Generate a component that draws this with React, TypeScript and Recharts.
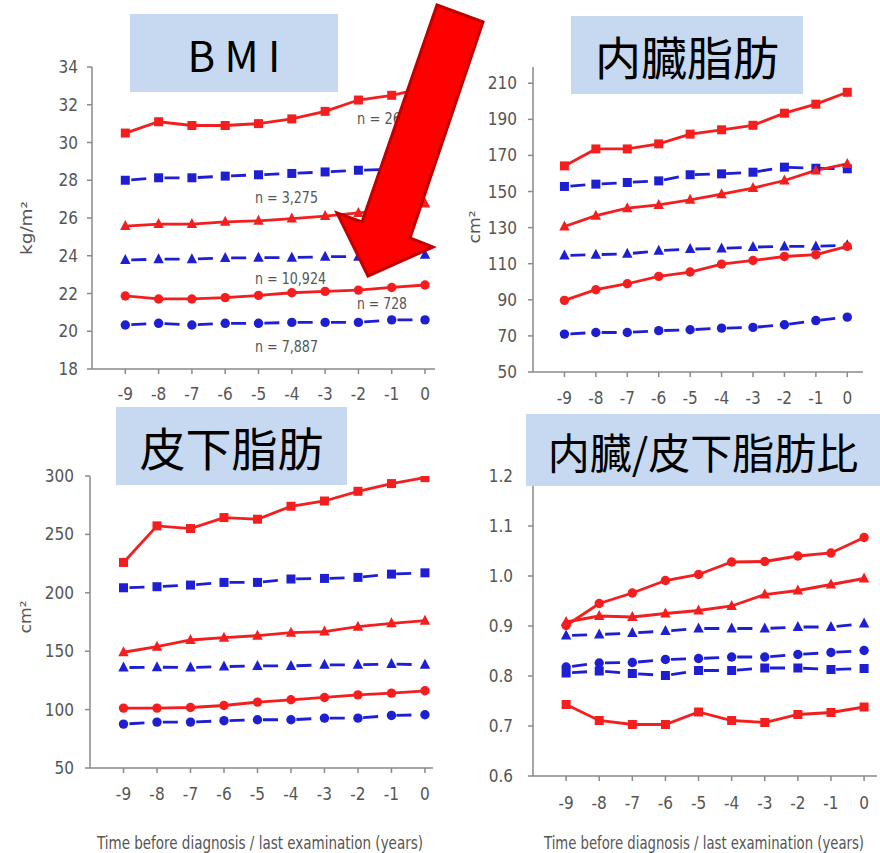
import React from 'react';
import { LineChart, Line, XAxis, YAxis } from 'recharts';

// ---------- data ----------
const years = [-9, -8, -7, -6, -5, -4, -3, -2, -1, 0];

// BMI (kg/m²)
const bmiRedSq = [30.5, 31.1, 30.9, 30.9, 31.0, 31.25, 31.65, 32.25, 32.5, 32.9];
const bmiBlueSq = [28.0, 28.13, 28.13, 28.22, 28.29, 28.36, 28.44, 28.53, 28.58, 28.62];
const bmiRedTri = [25.57, 25.68, 25.68, 25.8, 25.85, 25.97, 26.1, 26.27, 26.4, 26.77];
const bmiBlueTri = [23.77, 23.82, 23.82, 23.88, 23.9, 23.9, 23.95, 23.95, 23.97, 24.05];
const bmiRedCir = [21.87, 21.71, 21.71, 21.78, 21.9, 22.04, 22.11, 22.18, 22.32, 22.45];
const bmiBlueCir = [20.33, 20.42, 20.33, 20.42, 20.42, 20.47, 20.47, 20.47, 20.6, 20.6];
const bmiTicks = [18, 20, 22, 24, 26, 28, 30, 32, 34];
const bmiNotes = ['n = 26', 'n = 3,275', 'n = 10,924', 'n = 728', 'n = 7,887'];

// 内臓脂肪 (cm²)
const vatRedSq = [164.2, 173.6, 173.6, 176.4, 181.8, 184.2, 186.7, 193.4, 198.4, 205.0];
const vatBlueSq = [152.8, 154.1, 155.0, 155.9, 159.3, 159.8, 160.7, 163.5, 162.9, 162.6];
const vatRedTri = [130.6, 136.6, 140.8, 142.6, 145.4, 148.5, 151.9, 156.1, 161.7, 165.3];
const vatBlueTri = [114.6, 115.0, 115.5, 117.2, 118.1, 118.5, 119.2, 119.6, 119.6, 120.3];
const vatRedCir = [89.7, 95.6, 98.9, 103.0, 105.4, 109.8, 111.8, 114.0, 115.0, 119.6];
const vatBlueCir = [71.0, 71.9, 71.9, 72.9, 73.4, 74.3, 74.7, 76.2, 78.5, 80.4];
const vatTicks = [50, 70, 90, 110, 130, 150, 170, 190, 210];

// 皮下脂肪 (cm²)
const satRedSq = [226.0, 257.3, 255.0, 264.4, 263.0, 274.1, 278.6, 286.9, 293.5, 298.6];
const satBlueSq = [204.3, 205.2, 206.6, 208.9, 208.9, 211.8, 212.3, 213.2, 216.0, 217.1];
const satRedTri = [149.1, 153.9, 159.6, 161.6, 163.3, 165.9, 166.8, 171.0, 173.9, 176.1];
const satBlueTri = [136.0, 136.3, 136.0, 136.8, 137.4, 137.4, 138.3, 138.3, 139.1, 138.3];
const satRedCir = [101.3, 101.3, 101.8, 103.5, 106.4, 108.4, 110.4, 112.6, 114.1, 116.1];
const satBlueCir = [87.6, 89.3, 89.3, 90.5, 91.3, 91.3, 92.7, 92.7, 95.0, 95.6];
const satTicks = [50, 100, 150, 200, 250, 300];

// 内臓/皮下脂肪比
const ratioRedSq = [0.743, 0.711, 0.703, 0.703, 0.728, 0.711, 0.707, 0.723, 0.727, 0.738];
const ratioBlueSq = [0.806, 0.81, 0.805, 0.801, 0.811, 0.811, 0.816, 0.816, 0.813, 0.815];
const ratioRedTri = [0.908, 0.92, 0.918, 0.925, 0.931, 0.94, 0.963, 0.971, 0.983, 0.995];
const ratioBlueTri = [0.881, 0.883, 0.886, 0.89, 0.895, 0.895, 0.895, 0.898, 0.898, 0.905];
const ratioRedCir = [0.901, 0.945, 0.966, 0.991, 1.003, 1.028, 1.029, 1.04, 1.046, 1.077];
const ratioBlueCir = [0.818, 0.826, 0.827, 0.833, 0.835, 0.838, 0.838, 0.843, 0.847, 0.851];
const ratioTicks = [0.6, 0.7, 0.8, 0.9, 1.0, 1.1, 1.2];

const xLabel = 'Time before diagnosis / last examination (years)';

// ---------- styles ----------
const RED = '#f51e1e';
const BLUE = '#1e1ed2';
const AXIS = '#8a8a8a';
const TXT = '#555555';
const BOX = '#c6d9f0';
const NARROW = "'Liberation Sans Narrow','DejaVu Sans Condensed',sans-serif";
const CJK = "'Noto Sans CJK JP','Noto Sans',sans-serif";

type Shape = 'square' | 'circle' | 'triangle';
type SeriesDef = { key: string; values: number[]; color: string; shape: Shape; dashed: boolean };

const makeDot = (shape: Shape, color: string) => (p: any) => {
  const { cx, cy, index } = p;
  if (cx == null || cy == null) return <g key={`d${index}`} />;
  if (shape === 'square')
    return <rect key={`d${index}`} x={cx - 4.5} y={cy - 4.5} width={9} height={9} fill={color} />;
  if (shape === 'circle') return <circle key={`d${index}`} cx={cx} cy={cy} r={4.7} fill={color} />;
  return (
    <polygon
      key={`d${index}`}
      points={`${cx},${cy - 6} ${cx + 5.2},${cy + 4} ${cx - 5.2},${cy + 4}`}
      fill={color}
    />
  );
};

const buildSeries = (
  prefix: string,
  rs: number[], bs: number[], rt: number[], bt: number[], rc: number[], bc: number[]
): SeriesDef[] => [
  { key: prefix + 'rs', values: rs, color: RED, shape: 'square', dashed: false },
  { key: prefix + 'bs', values: bs, color: BLUE, shape: 'square', dashed: true },
  { key: prefix + 'rt', values: rt, color: RED, shape: 'triangle', dashed: false },
  { key: prefix + 'bt', values: bt, color: BLUE, shape: 'triangle', dashed: true },
  { key: prefix + 'rc', values: rc, color: RED, shape: 'circle', dashed: false },
  { key: prefix + 'bc', values: bc, color: BLUE, shape: 'circle', dashed: true },
];

type PanelDef = {
  left: number; top: number; width: number; height: number;
  margin: { top: number; right: number; bottom: number; left: number };
  yWidth: number; xHeight: number;
  yDomain: [number, number]; yTicks: number[]; xDomain: [number, number];
  xTickMargin: number; yTickMargin: number; spacing: number;
  fmt?: (v: number) => string;
  series: SeriesDef[];
};

const panels: PanelDef[] = [
  {
    left: 0, top: 0, width: 450, height: 420,
    margin: { top: 67, right: 15, bottom: 21, left: 0 }, yWidth: 92, xHeight: 30,
    yDomain: [18, 34], yTicks: bmiTicks, xDomain: [-10, 0.3],
    xTickMargin: 14, yTickMargin: 9, spacing: 33.3,
    series: buildSeries('bmi', bmiRedSq, bmiBlueSq, bmiRedTri, bmiBlueTri, bmiRedCir, bmiBlueCir),
  },
  {
    left: 440, top: 0, width: 440, height: 420,
    margin: { top: 67, right: 17, bottom: 18, left: 0 }, yWidth: 93, xHeight: 30,
    yDomain: [50, 219], yTicks: vatTicks, xDomain: [-10, 0.5],
    xTickMargin: 15, yTickMargin: 11, spacing: 31.3,
    series: buildSeries('vat', vatRedSq, vatBlueSq, vatRedTri, vatBlueTri, vatRedCir, vatBlueCir),
  },
  {
    left: 0, top: 420, width: 450, height: 433,
    margin: { top: 56, right: 17, bottom: 55, left: 0 }, yWidth: 90, xHeight: 30,
    yDomain: [50, 300], yTicks: satTicks, xDomain: [-10, 0.24],
    xTickMargin: 15, yTickMargin: 11, spacing: 33.4,
    series: buildSeries('sat', satRedSq, satBlueSq, satRedTri, satBlueTri, satRedCir, satBlueCir),
  },
  {
    left: 440, top: 420, width: 440, height: 433,
    margin: { top: 56, right: 3, bottom: 47, left: 0 }, yWidth: 93, xHeight: 30,
    yDomain: [0.6, 1.2], yTicks: ratioTicks, xDomain: [-10, 0.39],
    xTickMargin: 16, yTickMargin: 15, spacing: 33.1,
    fmt: (v: number) => v.toFixed(1),
    series: buildSeries('ratio', ratioRedSq, ratioBlueSq, ratioRedTri, ratioBlueTri, ratioRedCir, ratioBlueCir),
  },
];

const Panel = ({ p }: { p: PanelDef }) => {
  const data = years.map((x, i) => {
    const row: Record<string, number> = { x };
    p.series.forEach((s) => (row[s.key] = s.values[i]));
    return row;
  });
  const tickStyle = { fill: TXT, fontSize: 17, fontFamily: NARROW };
  const lineStyle = { stroke: AXIS, strokeWidth: 1.5 };
  return (
    <div style={{ position: 'absolute', left: p.left, top: p.top }}>
      <LineChart width={p.width} height={p.height} data={data} margin={p.margin}>
        <XAxis
          type="number" dataKey="x" domain={p.xDomain} ticks={years} interval={0}
          height={p.xHeight} tickSize={5} tickMargin={p.xTickMargin}
          tick={tickStyle} axisLine={lineStyle} tickLine={lineStyle} allowDataOverflow
        />
        <YAxis
          type="number" domain={p.yDomain} ticks={p.yTicks} interval={0}
          width={p.yWidth} tickSize={5} tickMargin={p.yTickMargin}
          tick={tickStyle} axisLine={lineStyle} tickLine={lineStyle}
          tickFormatter={p.fmt} allowDataOverflow
        />
        {p.series.map((s) => (
          <Line
            key={s.key} type="linear" dataKey={s.key} stroke={s.color} strokeWidth={2.8}
            strokeDasharray={s.dashed ? `0 6 15 ${(p.spacing - 21).toFixed(1)}` : undefined}
            dot={makeDot(s.shape, s.color)} activeDot={false} isAnimationActive={false}
          />
        ))}
      </LineChart>
    </div>
  );
};

const TitleBox = ({ x, y, w, h, text, size }: any) => (
  <g>
    <rect x={x} y={y} width={w} height={h} fill={BOX} />
    <text
      x={x + w / 2} y={y + h / 2} textAnchor="middle" dominantBaseline="central"
      fontFamily={CJK} fontSize={size} fill="#000"
    >
      {text}
    </text>
  </g>
);

const VLabel = ({ x, y, text, len }: any) => (
  <text
    x={x} y={y} transform={`rotate(-90 ${x} ${y})`} textAnchor="middle" dominantBaseline="central"
    fontFamily={NARROW} fontSize={16} fill={TXT} textLength={len} lengthAdjust="spacingAndGlyphs"
  >
    {text}
  </text>
);

const Note = ({ x, y, text, len }: any) => (
  <text
    x={x} y={y} dominantBaseline="central" fontFamily={NARROW} fontSize={16} fill={TXT}
    textLength={len} lengthAdjust="spacingAndGlyphs"
  >
    {text}
  </text>
);

export default function App() {
  return (
    <div style={{ position: 'absolute', left: 0, top: 0, width: 880, height: 853, background: '#fff', overflow: 'hidden' }}>
      {panels.map((p, i) => (
        <Panel key={i} p={p} />
      ))}
      <svg width={880} height={853} style={{ position: 'absolute', left: 0, top: 0, pointerEvents: 'none' }}>
        {/* y axis labels */}
        <VLabel x={26} y={228} text="kg/m²" len={54} />
        <VLabel x={474} y={227} text="cm²" len={33} />
        <VLabel x={25} y={617} text="cm²" len={33} />
        {/* x axis labels */}
        <text x={260} y={843} textAnchor="middle" dominantBaseline="central" fontFamily={NARROW} fontSize={17} fill={TXT} textLength={326} lengthAdjust="spacingAndGlyphs">{xLabel}</text>
        <text x={704} y={843} textAnchor="middle" dominantBaseline="central" fontFamily={NARROW} fontSize={17} fill={TXT} textLength={320} lengthAdjust="spacingAndGlyphs">{xLabel}</text>
        {/* n annotations */}
        <Note x={357} y={118} text={bmiNotes[0]} len={44} />
        <Note x={255} y={197} text={bmiNotes[1]} len={63} />
        <Note x={255} y={278} text={bmiNotes[2]} len={71} />
        <Note x={357} y={303} text={bmiNotes[3]} len={50} />
        <Note x={255} y={346} text={bmiNotes[4]} len={63} />
        {/* title boxes */}
        <TitleBox x={130} y={14} w={208} h={78} text="B M I" size={42} />
        <TitleBox x={571} y={16} w={232} h={78} text="内臓脂肪" size={46} />
        <TitleBox x={116} y={407} w={231} h={78} text="皮下脂肪" size={46} />
        <TitleBox x={526} y={414} w={354} h={72} text="内臓/皮下脂肪比" size={42} />
        {/* arrow */}
        <polygon
          points="437,5 483,22 410,238 433,247 368,276 337,213 362,222"
          fill="#ff0000" stroke="#c00000" strokeWidth={3} strokeLinejoin="miter"
        />
      </svg>
    </div>
  );
}
